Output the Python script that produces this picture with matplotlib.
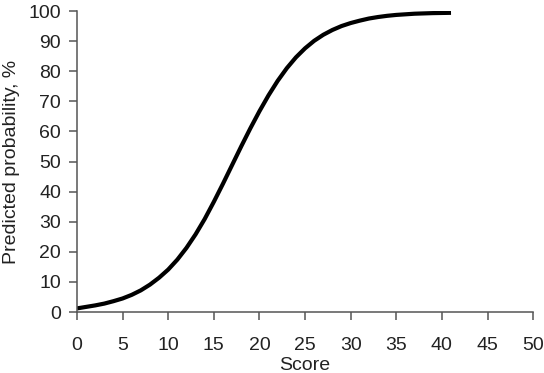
import matplotlib
matplotlib.use("Agg")
import matplotlib.pyplot as plt

# values, one per score unit
scores = list(range(0, 42))
probability = [
    1.2, 1.7, 2.2, 2.8, 3.6, 4.5, 5.7, 7.2, 9.1, 11.4,
    14.1, 17.4, 21.3, 25.8, 30.9, 36.6, 42.6, 48.8, 55.0, 61.0,
    66.7, 72.0, 76.8, 81.0, 84.6, 87.6, 90.1, 92.1, 93.7, 95.0,
    96.0, 96.8, 97.5, 98.0, 98.4, 98.7, 98.9, 99.1, 99.2, 99.3,
    99.35, 99.4,
]
x_ticks = list(range(0, 51, 5))
y_ticks = list(range(0, 101, 10))

plt.rcParams["font.family"] = ["Liberation Sans", "DejaVu Sans"]

fig = plt.figure(figsize=(5.44, 3.73), dpi=100)
ax = fig.add_axes([0.1415, 0.1635, 0.8385, 0.807])

ax.plot(scores, probability, color="black", linewidth=3.0,
        solid_capstyle="butt", solid_joinstyle="round")

ax.set_xlim(0, 50)
ax.set_ylim(0, 100)
ax.set_xticks(x_ticks)
ax.set_yticks(y_ticks)

spine_color = "#555555"
for side in ("top", "right"):
    ax.spines[side].set_visible(False)
for side in ("left", "bottom"):
    ax.spines[side].set_color(spine_color)
    ax.spines[side].set_linewidth(1.1)
ax.tick_params(direction="out", length=5.5, width=1.1, color=spine_color,
               labelsize=14, labelcolor="#222222")
ax.tick_params(axis="x", pad=12.5)
ax.tick_params(axis="y", pad=6)

ax.set_xlabel("Score", fontsize=14, color="#222222", labelpad=2)
ax.set_ylabel("Predicted probability, %", fontsize=14, color="#222222", labelpad=6)

fig.savefig("out.png", dpi=100)
